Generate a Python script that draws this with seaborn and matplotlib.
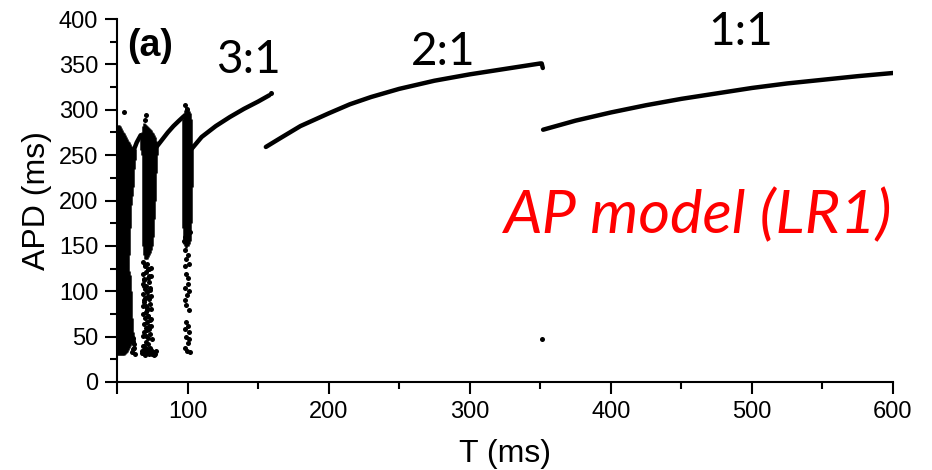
import numpy as np
import pandas as pd
import matplotlib
matplotlib.use("Agg")
import matplotlib.pyplot as plt
import seaborn as sns
from matplotlib.ticker import MultipleLocator, FixedLocator

# ---------------- data ----------------
# dense chaotic clusters: column ranges (T, APD low, APD high)
dense_cols = [
    (50, 30, 280), (50.7, 30, 283), (51.4, 30, 283), (52.1, 30, 282), (52.8, 30, 280),
    (53.5, 30, 278), (54.2, 30, 276), (54.9, 30, 274), (55.6, 31, 272), (56.3, 32, 270),
    (57, 33, 268), (57.7, 35, 266), (58.4, 38, 122), (58.4, 140, 264), (59.1, 40, 118),
    (59.1, 170, 262), (59.8, 42, 100), (59.8, 195, 260), (60.5, 44, 70), (60.5, 205, 259),
    (61.2, 45, 55), (61.2, 215, 258), (61.9, 40, 48), (61.9, 235, 257), (62.5, 245, 257),
    (66.8, 256, 272), (67.5, 250, 276), (68.2, 150, 282), (68.9, 140, 285), (69.6, 135, 284),
    (70.3, 135, 283), (71, 135, 282), (71.7, 138, 281), (72.4, 140, 280), (73.1, 142, 279),
    (73.8, 145, 278), (74.5, 150, 276), (75.2, 160, 274), (75.9, 180, 272), (76.6, 200, 270),
    (77.3, 230, 266), (78, 250, 262),
    (96.8, 170, 290), (97.5, 152, 296), (98.2, 150, 300), (98.9, 148, 303), (99.6, 150, 302),
    (100.3, 150, 301), (101, 152, 299), (101.7, 155, 296), (102.4, 175, 290), (103, 215, 262),
]
dense_T = [c[0] for c in dense_cols]
dense_lo = [c[1] for c in dense_cols]
dense_hi = [c[2] for c in dense_cols]

# sparse scattered points (T, APD)
dots = [
    (55, 298), (70.5, 294), (69.5, 289), (98.2, 305), (99.8, 301), (159, 318), (351, 47),
    # cluster 2 lower part
    (68.4, 132), (71.2, 130), (69.6, 128), (73.8, 126), (72.1, 124),
    (70.3, 121), (68.2, 119), (74.2, 117), (71.8, 115), (69.1, 113),
    (72.9, 110), (68.7, 108), (70.8, 106), (73.5, 104), (69.9, 102),
    (71.5, 99), (68.3, 97), (74.0, 95), (70.1, 93), (72.6, 91),
    (69.3, 88), (73.2, 86), (68.6, 84), (71.0, 82), (74.4, 80),
    (70.6, 77), (68.1, 75), (72.3, 73), (69.7, 71), (73.9, 69),
    (71.4, 66), (68.9, 64), (74.1, 62), (70.2, 60), (72.8, 58),
    (69.0, 55), (73.4, 53), (68.5, 51), (71.7, 49), (74.6, 47),
    (70.4, 44), (72.2, 42), (68.2, 40), (73.7, 38), (69.8, 36),
    (72.7, 124), (68.9, 112), (73.1, 101), (69.4, 90), (71.3, 79),
    (70.0, 129), (72.4, 117), (68.8, 106), (71.9, 95), (70.5, 84),
    (72.0, 73), (73.0, 62), (70.9, 51), (69.2, 40), (71.6, 57), (73.3, 68),
    (68, 34), (69.5, 33), (71, 35), (72.5, 33), (74, 34), (76, 33),
    (68.5, 32), (70, 31), (71.5, 33), (73, 32), (74.5, 31), (76.5, 30),
    (68, 32), (69.5, 33), (71, 36), (72.5, 31), (74, 35), (75.5, 32), (77, 31),
    (68.5, 34), (70, 30), (71.5, 32), (73, 35), (74.5, 33), (76, 31), (77.5, 34),
    # cluster 1 lower right
    (60, 52), (61, 48), (62, 42), (61.5, 36), (60.5, 33), (62.5, 31), (62, 38), (61, 44),
    # cluster 3 lower part
    (98, 145), (100, 140), (99, 135), (101, 130), (98.5, 128), (99, 119), (100, 108),
    (98, 104), (101, 100), (99.5, 96), (98, 90), (101, 79), (99, 66), (100.5, 62),
    (98.5, 58), (101, 55), (99, 50), (101, 47), (100, 43), (98.5, 38), (99.5, 34),
    (101.5, 33), (98, 160), (102, 165), (97.5, 155), (100.5, 115), (99, 85),
]
dots_T = [d[0] for d in dots]
dots_A = [d[1] for d in dots]

# continuous branches
b31a_T = [62, 64, 66.8]
b31a_A = [256, 264, 272]
b31b_T = [78, 82, 86, 90, 94, 97.5]
b31b_A = [259, 267, 275, 282, 288, 293]
b31c_T = [103, 110, 120, 130, 140, 150, 158]
b31c_A = [257, 270, 282, 292, 301, 309, 316]
b21_T = [155.5, 165, 180, 200, 215, 230, 250, 275, 300, 325, 350, 351, 351.8]
b21_A = [259, 268, 282, 296, 306, 314, 323, 332, 339, 345, 351, 351, 346]
b11_T = [352, 375, 400, 425, 450, 475, 500, 525, 550, 575, 600]
b11_A = [278, 288, 297, 305, 312, 318, 324, 329, 333, 337, 340.5]

x_ticks = [50, 100, 200, 300, 400, 500, 600]
x_tick_labels = ["", "100", "200", "300", "400", "500", "600"]
y_ticks = [0, 50, 100, 150, 200, 250, 300, 350, 400]

# ---------------- figure ----------------
sns.set_style("ticks")
plt.rcParams["font.family"] = ["Liberation Sans", "DejaVu Sans"]
for k in ["text.color", "axes.labelcolor", "xtick.color", "ytick.color", "axes.edgecolor"]:
    plt.rcParams[k] = "black"

W, H = 932, 470
fig = plt.figure(figsize=(W / 100, H / 100), dpi=100)
ax = fig.add_axes([117 / W, 1 - 382 / H, (893 - 117) / W, (382 - 19) / H])

ax.vlines(dense_T, dense_lo, dense_hi, colors="black", linewidth=1.8)
sns.scatterplot(x=dots_T, y=dots_A, ax=ax, color="black", s=13, linewidth=0)

for bt, ba in [(b31a_T, b31a_A), (b31b_T, b31b_A), (b31c_T, b31c_A),
               (b21_T, b21_A), (b11_T, b11_A)]:
    sns.lineplot(x=bt, y=ba, ax=ax, color="black", linewidth=3.2,
                 sort=False, estimator=None, solid_capstyle="round")

ax.set_xlim(50, 600)
ax.set_ylim(0, 400)
ax.xaxis.set_major_locator(FixedLocator(x_ticks))
ax.set_xticklabels(x_tick_labels)
ax.xaxis.set_minor_locator(FixedLocator([150, 250, 350, 450, 550]))
ax.set_yticks(y_ticks)
ax.yaxis.set_minor_locator(MultipleLocator(25))

for side in ["top", "right"]:
    ax.spines[side].set_visible(False)
for side in ["left", "bottom"]:
    ax.spines[side].set_linewidth(1.5)
ax.tick_params(which="major", length=8.5, width=1.5, labelsize=17, pad=5, direction="out")
ax.tick_params(which="minor", length=5, width=1.5, direction="out")

ax.set_xlabel("T (ms)", fontsize=23, labelpad=12)
ax.set_ylabel("APD (ms)", fontsize=23, labelpad=5)

def ftext(px, py, s, **kw):
    fig.text(px / W, 1 - py / H, s, ha="center", va="center", **kw)

ftext(150, 46, "(a)", fontsize=27, fontweight="bold")
ftext(248, 60, "3:1", fontsize=33, family=["Lato", "DejaVu Sans"])
ftext(443, 52, "2:1", fontsize=33, family=["Lato", "DejaVu Sans"])
ftext(741, 32, "1:1", fontsize=33, family=["Lato", "DejaVu Sans"])
ftext(698, 215, "AP model (LR1)", fontsize=44, color="red", style="italic",
      family=["Lato", "DejaVu Sans"])

fig.savefig("out.png", dpi=100)
